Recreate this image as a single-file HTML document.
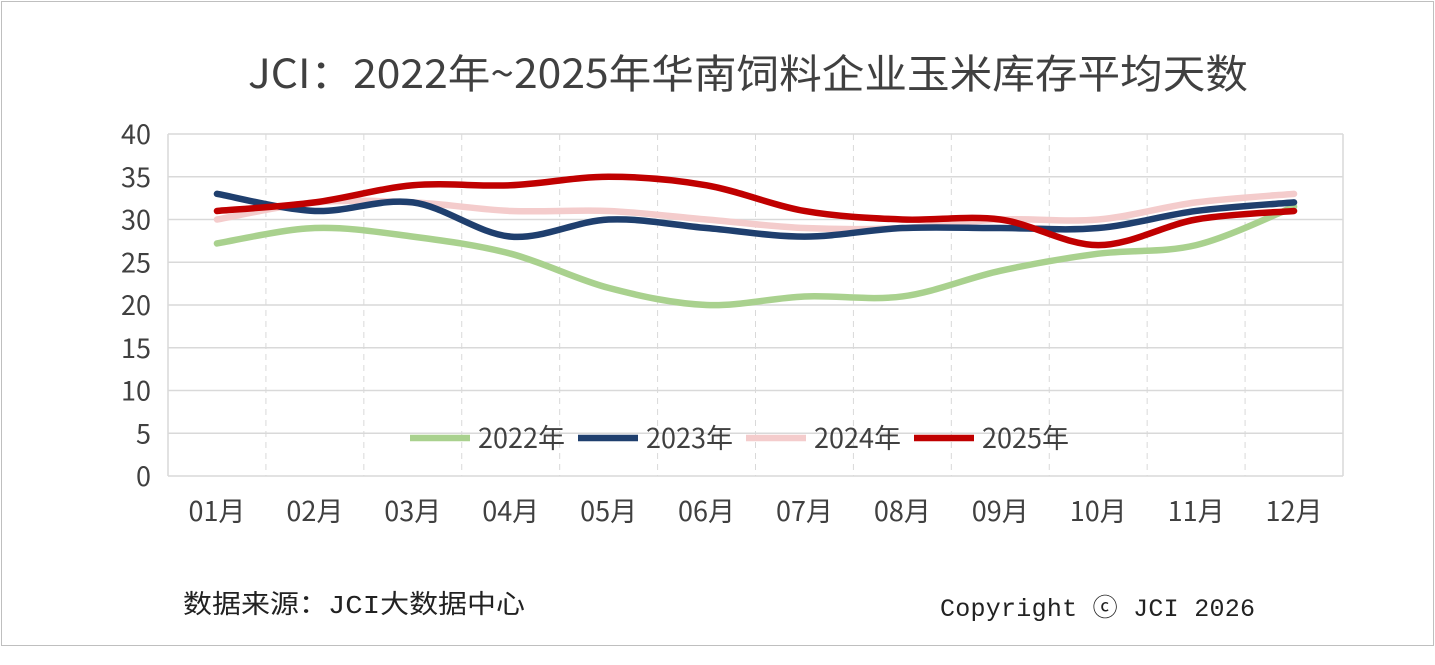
<!DOCTYPE html>
<html><head><meta charset="utf-8"><style>
body{margin:0;background:#fff;}
#c{position:relative;width:1435px;height:665px;overflow:hidden;}
</style></head><body><div id="c">
<svg width="1435" height="665" xmlns="http://www.w3.org/2000/svg">
<rect x="1.5" y="1.5" width="1432" height="644" fill="#fff" stroke="#bfbfbf" stroke-width="1"/>
<text x="248" y="88" font-size="40" fill="#404040" textLength="1000" lengthAdjust="spacingAndGlyphs" style="font-family:'Noto Sans CJK SC',sans-serif">JCI：2022年~2025年华南饲料企业玉米库存平均天数</text>
<g id="grid" stroke="#d9d9d9" stroke-width="1.5"></g>
<g id="labels" fill="#404040" font-size="27" style="font-family:'Noto Sans CJK SC',sans-serif"></g>
<g id="series" fill="none" stroke-width="6.5" stroke-linecap="round"></g>
<g font-size="27" fill="#404040" style="font-family:'Noto Sans CJK SC',sans-serif">
<line x1="410" y1="438" x2="470" y2="438" stroke="#a9d18e" stroke-width="6.5"/><text x="478" y="448">2022年</text>
<line x1="578" y1="438" x2="638" y2="438" stroke="#1f3f6e" stroke-width="6.5"/><text x="646" y="448">2023年</text>
<line x1="746" y1="438" x2="806" y2="438" stroke="#f4cccc" stroke-width="6.5"/><text x="814" y="448">2024年</text>
<line x1="914" y1="438" x2="974" y2="438" stroke="#c00000" stroke-width="6.5"/><text x="982" y="448">2025年</text>
</g>
<text x="183" y="613" font-size="26" fill="#222" textLength="342" lengthAdjust="spacingAndGlyphs" style="font-family:'Liberation Mono','Noto Sans CJK SC',monospace">数据来源：JCI大数据中心</text>
<text x="940" y="616" font-size="25" fill="#222" textLength="315" style="font-family:'Liberation Mono','Noto Sans CJK SC',monospace">Copyright ⓒ JCI 2026</text>
</svg></div>
<script>
var ns="http://www.w3.org/2000/svg";
function el(p,t,a,txt){var e=document.createElementNS(ns,t);for(var k in a)e.setAttribute(k,a[k]);if(txt)e.textContent=txt;document.getElementById(p).appendChild(e);return e;}
var L=168,R=1343,T=134,B=476,bw=(R-L)/12;
for(var i=0;i<=8;i++){var y=B-(B-T)*i/8;el("grid","line",{x1:L,x2:R,y1:y,y2:y});el("labels","text",{x:151,y:y+10,"text-anchor":"end"},String(i*5));}
el("grid","line",{x1:L,x2:L,y1:T,y2:B});el("grid","line",{x1:R,x2:R,y1:T,y2:B});
for(var i=1;i<12;i++){var x=L+bw*i;el("grid","line",{x1:x,x2:x,y1:T,y2:B,"stroke-dasharray":"6,5","stroke-width":"1"});}
for(var i=0;i<12;i++){var x=L+bw*(i+0.5);el("labels","text",{x:x,y:521,"text-anchor":"middle"},(i<9?"0":"")+(i+1)+"月");}
var D=[["#f4cccc",[30,32,32,31,31,30,29,29,30,30,32,33]],
["#a9d18e",[27.2,29,28,26,22,20,21,21,24,26,27,31.5]],
["#1f3f6e",[33,31,32,28,30,29,28,29,29,29,31,32]],
["#c00000",[31,32,34,34,35,34,31,30,30,27,30,31]]];
D.forEach(function(s){var p=s[1].map(function(v,i){return [L+bw*(i+0.5),B-(B-T)*v/40];});
var d="M"+p[0][0]+","+p[0][1];
for(var i=0;i<p.length-1;i++){var p0=p[i-1]||p[i],p1=p[i],p2=p[i+1],p3=p[i+2]||p2;
var c1=[p1[0]+(p2[0]-p0[0])/6,p1[1]+(p2[1]-p0[1])/6],c2=[p2[0]-(p3[0]-p1[0])/6,p2[1]-(p3[1]-p1[1])/6];
d+=" C"+c1+" "+c2+" "+p2;}
el("series","path",{d:d,stroke:s[0]});});
</script></body></html>
